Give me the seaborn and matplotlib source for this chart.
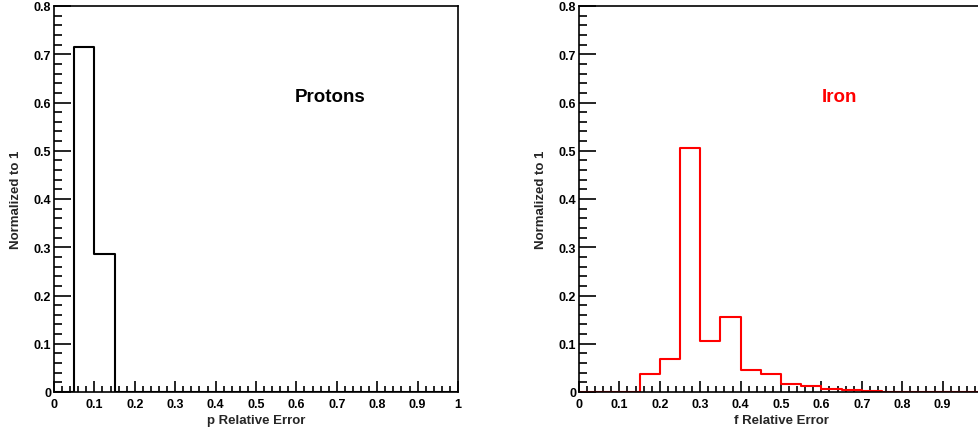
import numpy as np
import pandas as pd
import matplotlib
matplotlib.use("Agg")
import matplotlib.pyplot as plt
import seaborn as sns
from matplotlib.ticker import MultipleLocator, FuncFormatter

# ---- data (bin width 0.05 from 0 to 1) ----
bin_edges = [round(0.05 * i, 2) for i in range(21)]
bin_centers = [round(0.025 + 0.05 * i, 3) for i in range(20)]
proton_values = [0.0, 0.715, 0.285, 0.0, 0.0, 0.0, 0.0, 0.0, 0.0, 0.0,
                 0.0, 0.0, 0.0, 0.0, 0.0, 0.0, 0.0, 0.0, 0.0, 0.0]
iron_values = [0.0, 0.0, 0.0, 0.037, 0.068, 0.505, 0.105, 0.156, 0.046, 0.038,
               0.017, 0.012, 0.007, 0.004, 0.003, 0.001, 0.0, 0.0, 0.001, 0.0]
x_labels = ["p Relative Error", "f Relative Error"]
y_label = "Normalized to 1"
titles = ["Protons", "Iron"]

sns.set_style("white")
plt.rcParams['font.family'] = ['Liberation Sans', 'DejaVu Sans']
plt.rcParams['font.weight'] = 'bold'

fig = plt.figure(figsize=(9.79, 4.31), dpi=100)
W, H = 979, 431
ax1 = fig.add_axes([54 / W, 1 - 393 / H, 404 / W, 386 / H])
ax2 = fig.add_axes([579 / W, 1 - 393 / H, 404 / W, 386 / H])


def fmt_right(v, p):
    if v > 0.95:
        return ""
    return "%g" % round(v, 2)


fmt = FuncFormatter(lambda v, p: "%g" % round(v, 2))

for ax, vals, color, xl, title, tx, xf in [
        (ax1, proton_values, "black", x_labels[0], titles[0], 330, fmt),
        (ax2, iron_values, "#ff0000", x_labels[1], titles[1], 839,
         FuncFormatter(fmt_right))]:
    df = pd.DataFrame({"x": bin_centers, "w": vals})
    sns.histplot(data=df, x="x", weights="w", bins=bin_edges, element="step",
                 fill=False, color=color, linewidth=1.5, ax=ax)
    ax.set_xlim(0, 1)
    ax.set_ylim(0, 0.8)
    ax.xaxis.set_major_locator(MultipleLocator(0.1))
    ax.xaxis.set_minor_locator(MultipleLocator(0.02))
    ax.yaxis.set_major_locator(MultipleLocator(0.1))
    ax.yaxis.set_minor_locator(MultipleLocator(0.02))
    ax.xaxis.set_major_formatter(xf)
    ax.yaxis.set_major_formatter(fmt)
    ax.tick_params(axis="both", which="both", direction="in", top=False,
                   right=False, bottom=True, left=True, colors="black",
                   width=1.2)
    ax.tick_params(axis="x", which="major", length=8, pad=4, labelsize=9)
    ax.tick_params(axis="x", which="minor", length=4)
    ax.tick_params(axis="y", which="major", length=12, pad=2, labelsize=9)
    ax.tick_params(axis="y", which="minor", length=6)
    for lab in ax.get_xticklabels() + ax.get_yticklabels():
        lab.set_fontweight("bold")
    for s in ax.spines.values():
        s.set_visible(True)
        s.set_color("black")
        s.set_linewidth(1.2)
    ax.set_xlabel(xl, fontsize=9.5, fontweight="bold", labelpad=3)
    ax.set_ylabel(y_label, fontsize=9.5, fontweight="bold", labelpad=8)
    fig.text(tx / W, 1 - 98 / H, title, color=color, fontsize=13.5,
             fontweight="bold", ha="center", va="center")

fig.savefig("out.png", dpi=100)
